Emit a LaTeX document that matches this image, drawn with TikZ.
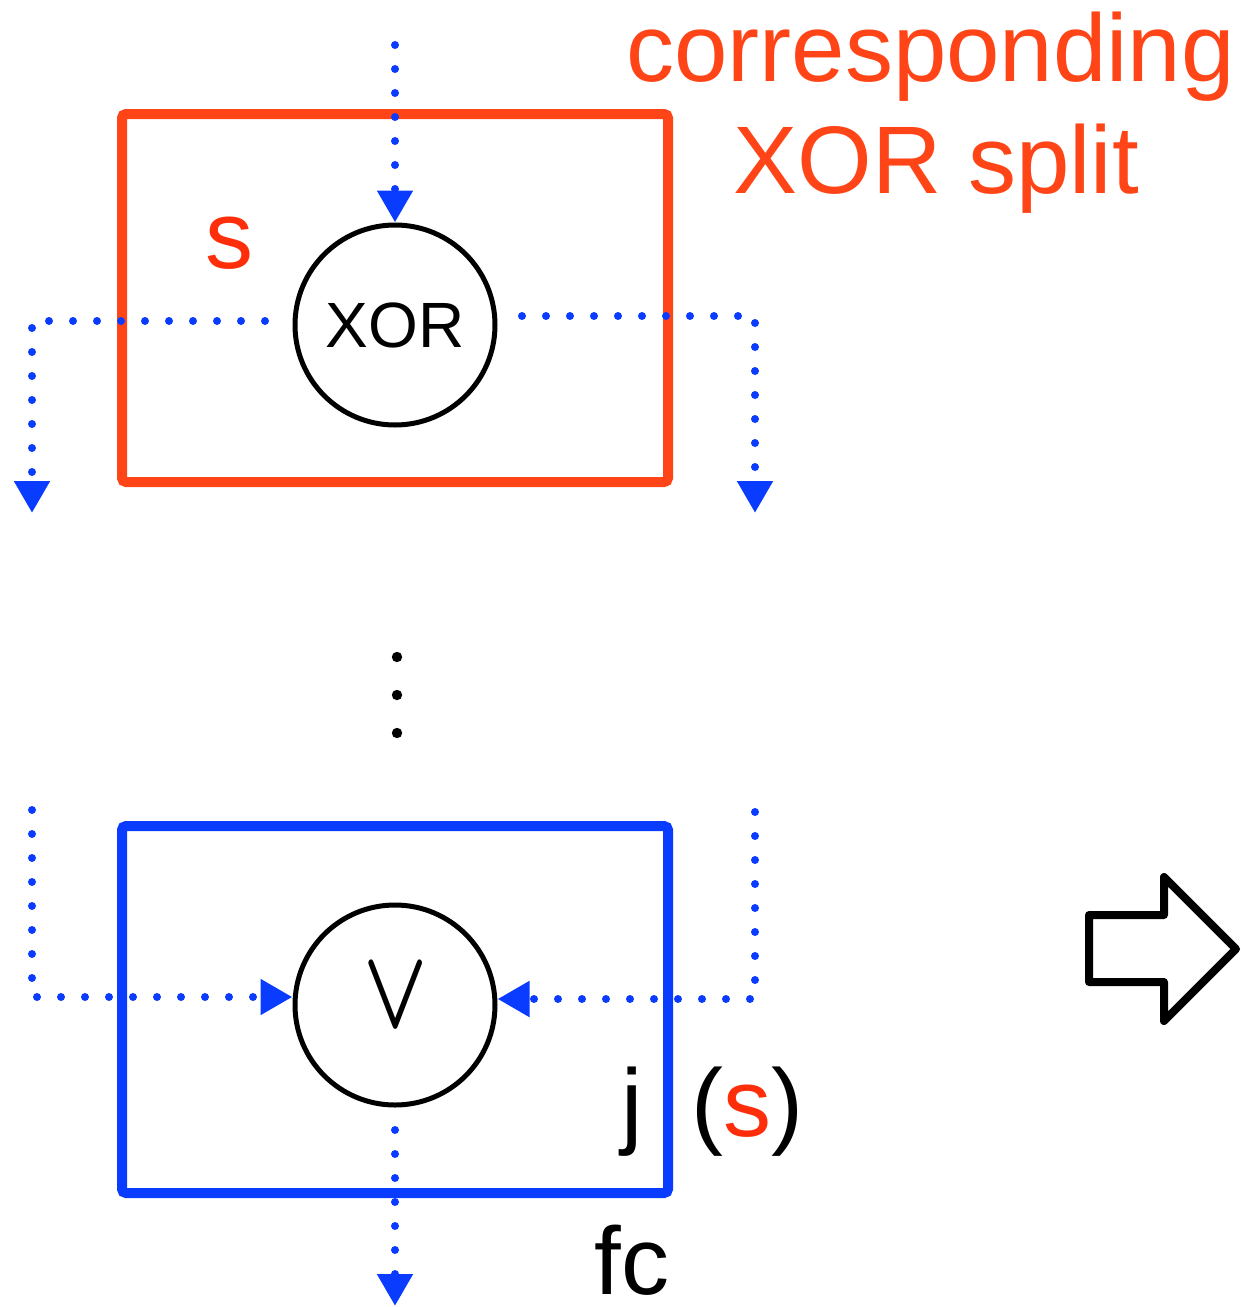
\documentclass[tikz,border=0pt]{standalone}
\usepackage{fontspec}
\setmainfont{Liberation Sans}
\usetikzlibrary{arrows.meta}
\definecolor{xred}{HTML}{FF4517}
\definecolor{sred}{HTML}{FF2E0A}
\definecolor{xblue}{HTML}{0A3CFF}
\begin{document}
\begin{tikzpicture}[x=0.5pt,y=-0.5pt,
  flow/.style={draw=xblue,line width=4pt,line cap=round,dash pattern=on 0pt off 12pt,-{Triangle[width=17pt,length=16pt]}},
  gate/.style={circle,draw=black,line width=2.5pt,minimum size=100pt,inner sep=0pt},
  frame/.style={line width=5pt,rounded corners=2pt},
  big/.style={font=\fontsize{48}{50}\selectfont,inner sep=0pt,anchor=base west},
]
\useasboundingbox (0,0) rectangle (1241,1307);
% frames
\draw[frame,draw=xred] (122,114) rectangle (668,482);
\draw[frame,draw=xblue] (122,826) rectangle (668,1193);
% gates
\node[gate,font=\fontsize{32}{34}\selectfont] (xor) at (395,325) {XOR};
\node[gate] (or) at (395,1005) {};
\node[inner sep=0pt] (orlabel) at (396,996) {\scalebox{4.2}[5.6]{\boldmath$\vee$}};
% coordinates
\coordinate (topin) at (395,45);
\coordinate (xl) at (265,321);
\coordinate (xle) at (32,513);
\coordinate (xr) at (522,316);
\coordinate (xre) at (755,513);
\coordinate (vl) at (32,810);
\coordinate (vr) at (755,812);
\coordinate (orout) at (395,1130);
\coordinate (orend) at (395,1306);
% flows
\draw[flow] (topin) -- (xor.north);
\draw[flow] (xl) -| (xle);
\draw[flow] (xr) -| (xre);
\draw[flow] (vl) |- ([yshift=4pt]or.west);
\draw[flow] (vr) |- ([yshift=3pt]or.east);
\draw[flow] (orout) -- (orend);
% vertical ellipsis
\fill (397,657) circle[radius=2.6pt];
\fill (397,695) circle[radius=2.6pt];
\fill (397,733) circle[radius=2.6pt];
% big hollow arrow
\draw[line width=4pt,line join=round] (1089,915) -- (1164,915) -- (1164,877) -- (1236,949) -- (1164,1021) -- (1164,982) -- (1089,982) -- cycle;
% labels
\node[big,text=xred] (t1) at (626,81) {corresponding};
\node[big,text=xred] (t2) at (733,193) {XOR split};
\node[big,text=sred] (slab) at (205,268) {s};
\node[big] (jlab) at (621,1136) {j};
\node[big] (slab2) at (691,1136) {(\textcolor{sred}{s})};
\node[big,text depth=0pt] (fc) at (594,1294) {fc};
\end{tikzpicture}
\end{document}
